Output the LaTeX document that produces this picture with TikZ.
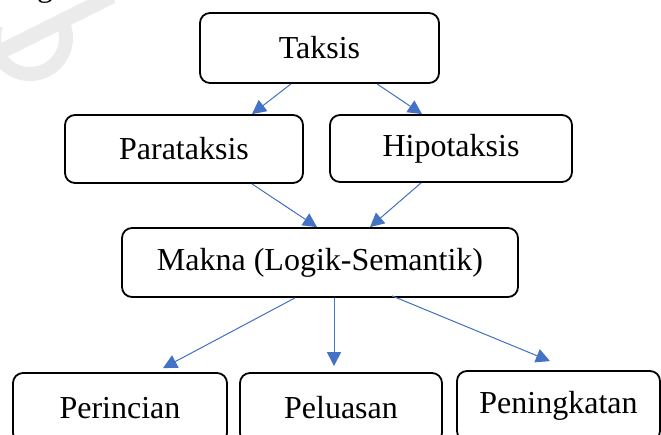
\documentclass[tikz,border=0pt]{standalone}
\usepackage{fontspec}
\setmainfont{Liberation Serif}
\usetikzlibrary{arrows.meta}
\definecolor{linkblue}{HTML}{4472C4}
\definecolor{markgray}{HTML}{EBEBEB}
\tikzset{
  box/.style={draw=black, line width=1.8pt, rounded corners=10pt, fill=white,
    inner sep=0pt, font=\fontsize{32}{38}\selectfont},
  link/.style={draw=linkblue, line width=1pt,
    -{Triangle[length=14pt,width=14pt]}, fill=linkblue}
}
\begin{document}
\begin{tikzpicture}[x=1pt,y=-1pt]
\useasboundingbox (0,0) rectangle (661,434);
\clip (0,0) rectangle (661,434);
% faint watermark stroke in the corner
\draw[markgray, line width=15pt] (-8,56) -- (112,-4);
\draw[markgray, line width=14pt] (30,38) ++(-35:36) arc[start angle=-35, end angle=200, radius=36];
% tail of the line of text above the chart
\node[anchor=base, font=\fontsize{32}{38}\selectfont, inner sep=0pt] (textline) at (45,-4) {g};
% boxes
\node[box, minimum width=239pt, minimum height=70pt] (taksis) at (319.5,48) {Taksis};
\node[box, minimum width=238pt, minimum height=68pt] (para) at (184,149) {Parataksis};
\node[box, minimum width=242pt, minimum height=67pt] (hipo) at (451,148.5) {Hipotaksis};
\node[box, minimum width=396pt, minimum height=69pt] (makna) at (320,262.5) {Makna (Logik-Semantik)};
\node[box, minimum width=214pt, minimum height=70pt] (perin) at (120,408) {Perincian};
\node[box, minimum width=202pt, minimum height=70pt] (pelu) at (341,408) {Peluasan};
\node[box, minimum width=203pt, minimum height=70pt] (pening) at (558.5,406) {Peningkatan};
% connectors
\draw[link] ([xshift=-28.5pt]taksis.south) -- ([xshift=68pt]para.north);
\draw[link] ([xshift=57.5pt]taksis.south) -- ([xshift=-29pt]hipo.north);
\draw[link] ([xshift=68pt]para.south) -- ([xshift=-3pt]makna.north);
\draw[link] ([xshift=-30pt]hipo.south) -- ([xshift=50pt]makna.north);
\draw[link] ([xshift=-25pt]makna.south) -- ([xshift=43pt,yshift=4pt]perin.north);
\draw[link] ([xshift=14pt]makna.south) -- ([xshift=-7pt,yshift=6pt]pelu.north);
\draw[link] ([xshift=72pt,yshift=2pt]makna.south) -- ([xshift=-8.5pt,yshift=9pt]pening.north);
\end{tikzpicture}
\end{document}
